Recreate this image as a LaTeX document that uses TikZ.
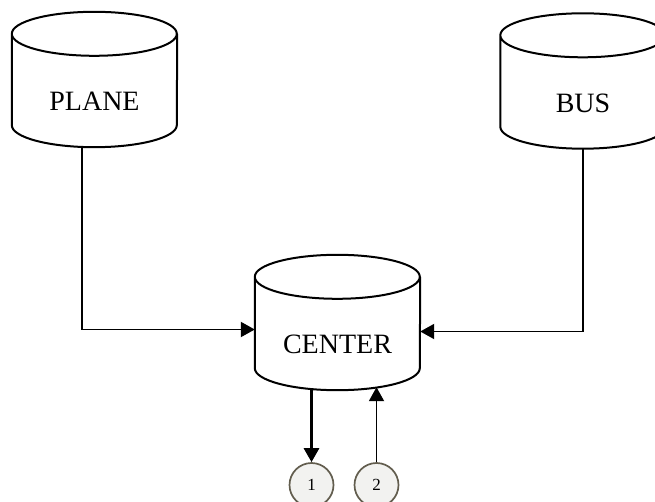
\documentclass[tikz,border=0pt]{standalone}
\usepackage{fontspec}
\setmainfont{Liberation Serif}
\usepackage{tikz}
\usetikzlibrary{arrows.meta}
\definecolor{ringgray}{RGB}{98,93,78}
\definecolor{ballgray}{RGB}{242,242,240}
\newcommand{\drum}[1]{%
  ([yshift=22pt]#1.north west)
    arc[start angle=180, end angle=-180, x radius=82.5pt, y radius=22pt]
  -- ([yshift=22pt]#1.south west)
    arc[start angle=180, end angle=360, x radius=82.5pt, y radius=22pt]
  -- ([yshift=22pt]#1.north east)
}
\tikzset{
  store/.style={rectangle, inner sep=0pt, minimum width=165pt, minimum height=91pt,
    font=\fontsize{28}{32}\selectfont},
  port/.style={circle, draw=ringgray, fill=ballgray, line width=1.7pt,
    minimum size=44pt, inner sep=0pt, font=\fontsize{17}{19}\selectfont},
  tip/.style={-{Triangle[length=14pt,width=15pt]}}
}
\begin{document}
\begin{tikzpicture}[x=1pt,y=-1pt]
   \useasboundingbox (0,0) rectangle (655,502);
   \node[store] (plane)  at (94.5,101.5) {PLANE};
   \node[store] (bus)    at (583,103)    {BUS};
   \node[store] (center) at (337.5,344.5) {CENTER};
   \draw[line width=2pt] \drum{plane} \drum{bus} \drum{center};
   \foreach \n/\x in {1/311.5,2/376.5}
     \node[port] (p\n) at (\x,485) {\n};
   \draw[line width=1.9pt,tip] ([xshift=-12.5pt]plane.south) |- ([yshift=15pt]center.west);
   \draw[line width=1.9pt,tip] (bus.south) |- ([yshift=13pt]center.east);
   \draw[line width=3pt,tip] (p1 |- center.south) -- (p1.north);
   \draw[line width=1.9pt,tip] (p2.north) -- ([yshift=3pt]p2 |- center.south);
\end{tikzpicture}
\end{document}
